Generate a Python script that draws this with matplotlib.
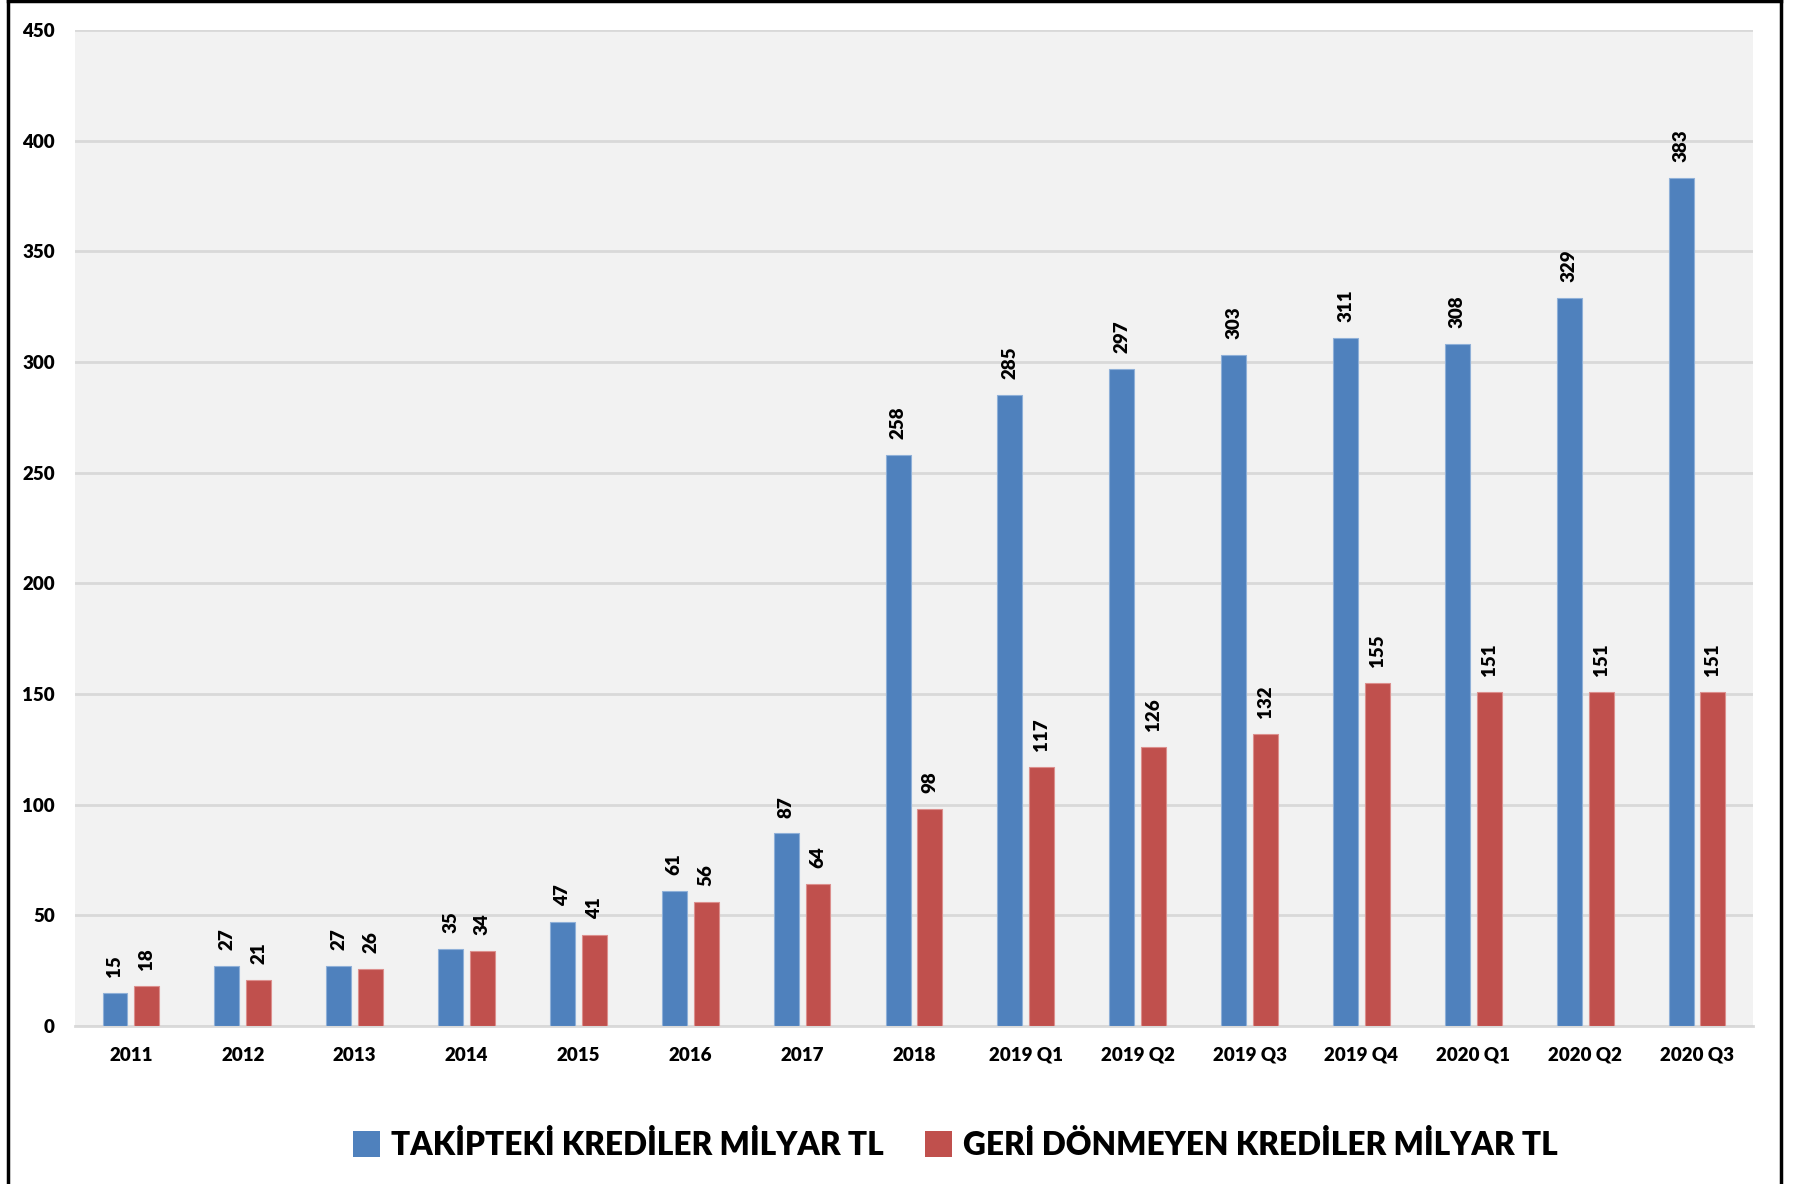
import numpy as np
from matplotlib import pyplot as plt
from matplotlib.lines import Line2D
from matplotlib.patches import Patch

plt.rcParams['font.family'] = ['Lato', 'DejaVu Sans']
plt.rcParams['font.weight'] = 'heavy'

CATEGORIES = ['2011', '2012', '2013', '2014', '2015', '2016', '2017', '2018',
              '2019 Q1', '2019 Q2', '2019 Q3', '2019 Q4', '2020 Q1', '2020 Q2', '2020 Q3']
TAKIPTEKI = [15, 27, 27, 35, 47, 61, 87, 258, 285, 297, 303, 311, 308, 329, 383]
GERI_DONMEYEN = [18, 21, 26, 34, 41, 56, 64, 98, 117, 126, 132, 155, 151, 151, 151]
SERIES_NAMES = ['TAKİPTEKİ KREDİLER MİLYAR TL', 'GERİ DÖNMEYEN KREDİLER MİLYAR TL']
Y_TICKS = [0, 50, 100, 150, 200, 250, 300, 350, 400, 450]

BLUE = '#4f81bd'
RED = '#c0504d'


def add_labels(ax, bars, values):
    for b, v in zip(bars, values):
        ax.annotate(str(v), (b.get_x() + b.get_width() / 2, b.get_height()),
                    xytext=(0, 11.5), textcoords='offset points',
                    rotation=90, ha='center', va='bottom',
                    fontsize=13.5, fontweight='heavy', color='black')


fig = plt.figure(figsize=(17.93, 11.84), dpi=100, facecolor='white')
ax = fig.add_axes([0.0418, 0.1334, 0.9359, 0.8413])
ax.set_facecolor('#f2f2f2')

x = np.arange(len(CATEGORIES))
w = 0.223
off = 0.142
b1 = ax.bar(x - off, TAKIPTEKI, w, color=BLUE, edgecolor='#8fb0d8', linewidth=0.8, zorder=3)
b2 = ax.bar(x + off, GERI_DONMEYEN, w, color=RED, edgecolor='#dc8f8d', linewidth=0.8, zorder=3)
add_labels(ax, b1, TAKIPTEKI)
add_labels(ax, b2, GERI_DONMEYEN)

ax.set_xlim(-0.5, len(CATEGORIES) - 0.5)
ax.set_ylim(0, 450)
ax.set_yticks(Y_TICKS)
ax.set_xticks(x)
ax.set_xticklabels(CATEGORIES)
ax.yaxis.grid(True, color='#d9d9d9', linewidth=2, zorder=0)
ax.set_axisbelow(True)
for s in ['left', 'right', 'top']:
    ax.spines[s].set_visible(False)
ax.spines['bottom'].set_color('#d9d9d9')
ax.spines['bottom'].set_linewidth(2)
ax.tick_params(axis='both', length=0, labelsize=13.5)
ax.tick_params(axis='y', pad=14.5)
ax.tick_params(axis='x', pad=15)
for t in ax.get_xticklabels() + ax.get_yticklabels():
    t.set_fontweight('heavy')

handles = [Patch(facecolor=BLUE, edgecolor='none'), Patch(facecolor=RED, edgecolor='none')]
leg = fig.legend(handles, SERIES_NAMES, loc='center', bbox_to_anchor=(0.533, 1 - 1145 / 1184),
                 ncol=2, frameon=False, prop={'family': 'Lato', 'weight': 'heavy', 'size': 22.8},
                 handlelength=0.85, handleheight=0.85, handletextpad=0.35, columnspacing=1.3)

# outer border
for xs, ys in [([0.0045, 0.0045], [0, 0.999]), ([0.0045, 0.9935], [0.999, 0.999]),
               ([0.9935, 0.9935], [0, 0.999])]:
    fig.add_artist(Line2D(xs, ys, color='black', linewidth=2.5, transform=fig.transFigure))

plt.savefig('out.png', dpi=100, facecolor='white')
plt.close()
